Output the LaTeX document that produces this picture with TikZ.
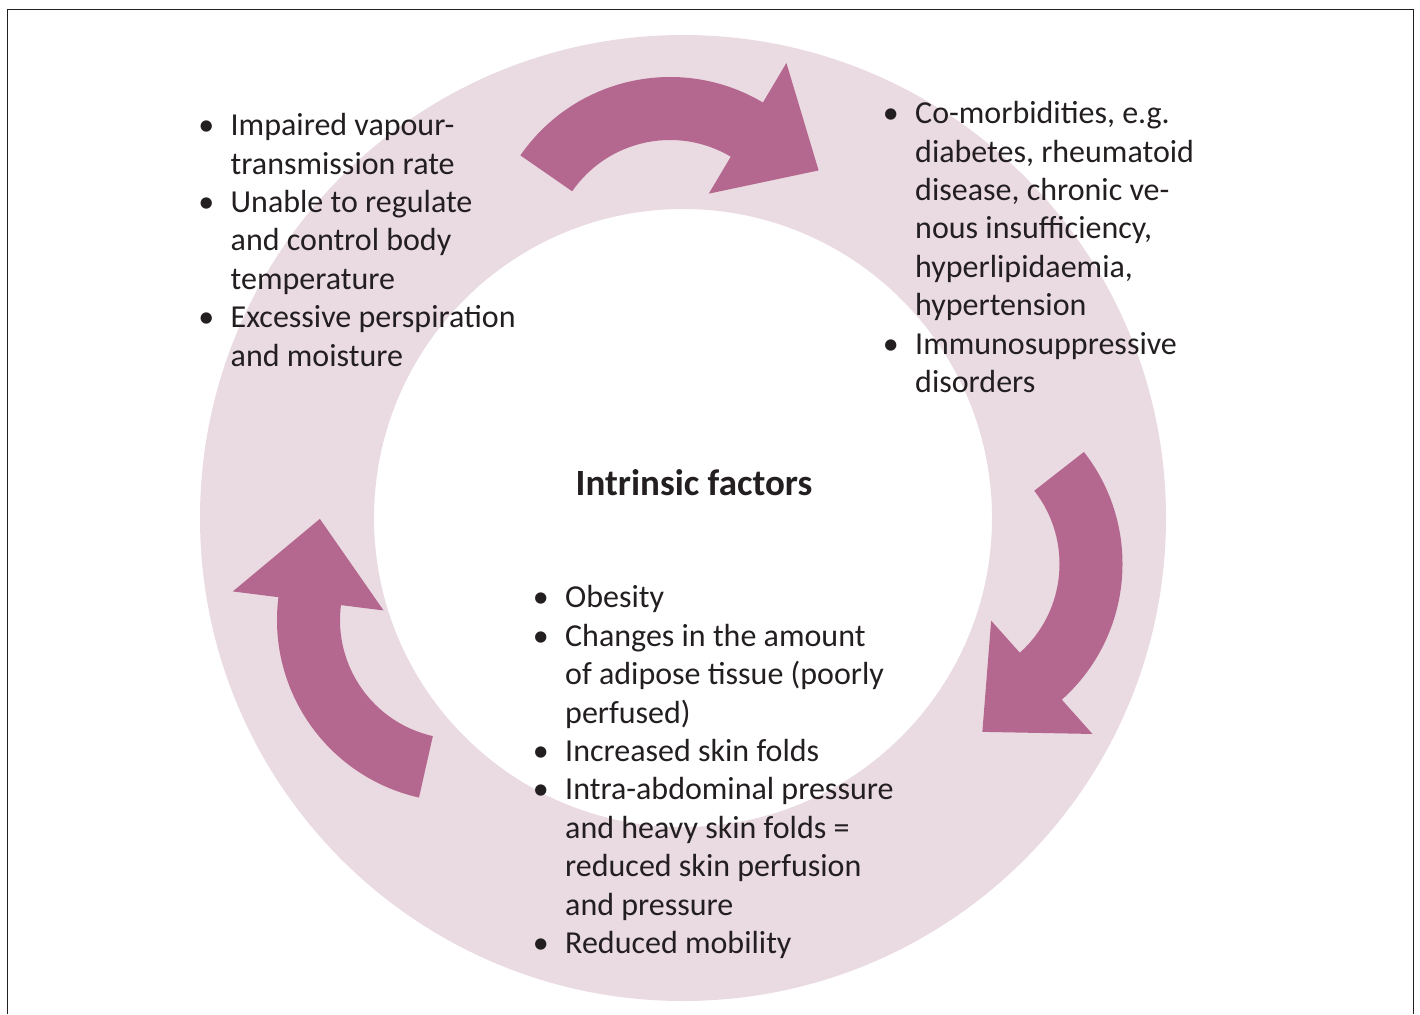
\documentclass[tikz,border=0pt]{standalone}
\usepackage{fontspec}
\setmainfont{Carlito}
\usepackage{tikz}
\definecolor{ringColor}{RGB}{234, 218, 226}
\definecolor{arrowColor}{RGB}{181, 104, 143}
\definecolor{textColor}{RGB}{35, 31, 32}
\newcommand{\bul}{\llap{\textbullet\hspace{16.5pt}}}

\begin{document}
\begin{tikzpicture}[
    x=1pt, y=-1pt,
    factor/.style={anchor=base west, align=left, inner sep=0pt, text=textColor, font=\fontsize{32}{38.4}\selectfont},
    heading/.style={anchor=base, inner sep=0pt, text=textColor, font=\fontsize{37}{40}\selectfont\bfseries},
    turn/.style={fill=arrowColor}
]
    \useasboundingbox (0,0) rectangle (1420,1014);

    % Frame
    \draw[textColor, line width=1.5pt] (7.5,1014) -- (7.5,9.5) -- (1413.5,9.5) -- (1413.5,1014);

    % Ring
    \coordinate (ctr) at (683,518);
    \fill[ringColor, even odd rule] (ctr) circle[radius=483] (ctr) circle[radius=309];

    % Arrows
    \fill[turn, shift={(670,259)}] (214.7:182) arc[start angle=214.7, end angle=300.7, radius=182]
        -- (300.7:228) -- (329.2:173) -- (300.7:76) -- (300.7:119)
        arc[start angle=300.7, end angle=214.7, radius=119] -- cycle;
    \fill[turn, shift={(940.5,564)}] (322:182) arc[start angle=322, end angle=408.2, radius=182]
        -- (408.2:228) -- (436:173) -- (408.2:76) -- (408.2:119)
        arc[start angle=408.2, end angle=322, radius=119] -- cycle;
    \fill[turn, shift={(459,620)}] (102.7:182) arc[start angle=102.7, end angle=187.2, radius=182]
        -- (187.2:228) -- (216:172) -- (187.2:76) -- (187.2:119)
        arc[start angle=187.2, end angle=102.7, radius=119] -- cycle;

    % Factors (placed at the baseline of their last line)
    \node[factor] (moisture) at (230.5,366) {\bul Impaired vapour-\\transmission rate\\\bul Unable to regulate\\and control body\\temperature\\\bul Excessive perspiration\\and moisture};
    \node[factor] (comorbid) at (915,392.5) {\bul Co-morbidities, e.g.\\diabetes, rheumatoid\\disease, chronic ve-\\nous insufficiency,\\hyperlipidaemia,\\hypertension\\\bul Immunosuppressive\\disorders};
    \node[factor] (obesity) at (565,953.5) {\bul Obesity\\\bul Changes in the amount\\of adipose tissue (poorly\\perfused)\\\bul Increased skin folds\\\bul Intra-abdominal pressure\\and heavy skin folds =\\reduced skin perfusion\\and pressure\\\bul Reduced mobility};

    % Title
    \node[heading] (title) at (694,495) {Intrinsic factors};
\end{tikzpicture}
\end{document}
